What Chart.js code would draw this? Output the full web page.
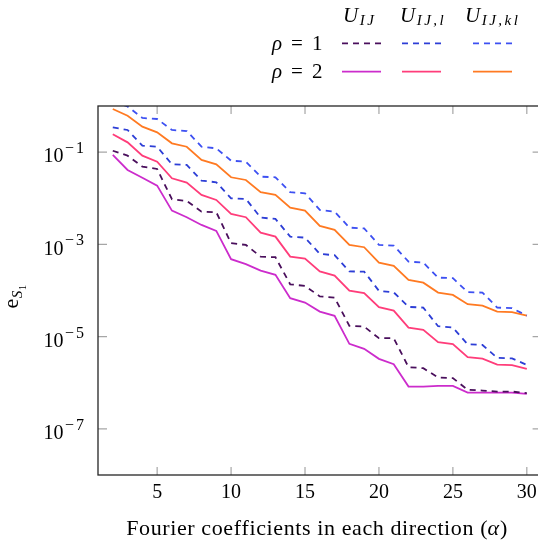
<!DOCTYPE html>
<html lang="en">
<head>
  <meta charset="UTF-8" />
  <title>Fourier coefficients error</title>
  <script src="https://cdn.jsdelivr.net/npm/chart.js"></script>
  <style>
    html, body { margin: 0; padding: 0; background: #fff; overflow: hidden; }
    #wrap { width: 548px; height: 549px; }
  </style>
</head>
<body>
  <div id="wrap"><canvas id="c" width="548" height="549"></canvas></div>

  <script>
    // number of Fourier coefficients in each direction
    const alpha = [2, 3, 4, 5, 6, 7, 8, 9, 10, 11, 12, 13, 14, 15, 16, 17, 18, 19, 20, 21, 22, 23, 24, 25, 26, 27, 28, 29, 30];

    // rho = 1 (dashed)
    const uIJ_rho1 = [0.107, 0.0838, 0.0484, 0.0431, 0.00951, 0.00874, 0.00513, 0.00498, 0.00106, 9.73e-4, 5.43e-4, 5.27e-4, 1.36e-4, 1.26e-4, 7.45e-5, 7.01e-5, 1.71e-5, 1.65e-5, 9.25e-6, 9.25e-6, 2.18e-6, 2.07e-6, 1.30e-6, 1.26e-6, 7.02e-7, 6.78e-7, 6.44e-7, 6.44e-7, 5.95e-7];
    const uIJl_rho1 = [0.345, 0.302, 0.138, 0.131, 0.0545, 0.0527, 0.0241, 0.0222, 0.0100, 0.00966, 0.00380, 0.00356, 0.00147, 0.00140, 6.21e-4, 5.82e-4, 2.59e-4, 2.57e-4, 9.8e-5, 9.1e-5, 4.41e-5, 4.26e-5, 1.68e-5, 1.57e-5, 6.8e-6, 6.6e-6, 3.46e-6, 3.38e-6, 2.44e-6];
    const uIJkl_rho1 = [1.28, 0.975, 0.550, 0.523, 0.302, 0.287, 0.131, 0.121, 0.0653, 0.0621, 0.0294, 0.0285, 0.0135, 0.0128, 0.00558, 0.00513, 0.00231, 0.00222, 9.73e-4, 9.4e-4, 4.23e-4, 4.02e-4, 1.90e-4, 1.85e-4, 9.19e-5, 9.0e-5, 4.26e-5, 4.13e-5, 2.86e-5];

    // rho = 2 (solid)
    const uIJ_rho2 = [0.0867, 0.0410, 0.0279, 0.0188, 0.00539, 0.00388, 0.00264, 0.00196, 4.77e-4, 3.72e-4, 2.70e-4, 2.18e-4, 6.81e-5, 5.47e-5, 3.49e-5, 2.82e-5, 6.97e-6, 5.43e-6, 3.30e-6, 2.53e-6, 8.27e-7, 8.27e-7, 8.57e-7, 8.57e-7, 6.13e-7, 6.13e-7, 6.13e-7, 6.13e-7, 5.75e-7];
    const uIJl_rho2 = [0.244, 0.163, 0.0838, 0.0621, 0.0271, 0.0218, 0.0118, 0.00919, 0.00457, 0.00388, 0.00180, 0.00147, 5.43e-4, 4.91e-4, 2.59e-4, 2.10e-4, 9.9e-5, 8.74e-5, 4.35e-5, 3.67e-5, 1.57e-5, 1.40e-5, 7.6e-6, 6.86e-6, 3.59e-6, 3.34e-6, 2.48e-6, 2.41e-6, 2.0e-6];
    const uIJkl_rho2 = [0.861, 0.616, 0.356, 0.269, 0.155, 0.131, 0.0676, 0.0545, 0.0285, 0.0249, 0.0135, 0.0118, 0.00625, 0.00539, 0.00251, 0.00206, 9.73e-4, 8.67e-4, 4.02e-4, 3.41e-4, 1.70e-4, 1.48e-4, 9.0e-5, 8.03e-5, 5.05e-5, 4.71e-5, 3.49e-5, 3.39e-5, 2.86e-5];

    const xTicks = [5, 10, 15, 20, 25, 30];
    const yTicks = [1e-7, 1e-5, 1e-3, 1e-1];

    const SERIF = "'Liberation Serif', 'DejaVu Serif', serif";
    const DASH = [6, 5];

    const series = [
      { data: uIJ_rho1,   color: '#4a0f5c', dash: DASH, row: 0, col: 0 },
      { data: uIJl_rho1,  color: '#2d3ed6', dash: DASH, row: 0, col: 1 },
      { data: uIJkl_rho1, color: '#3d50f2', dash: DASH, row: 0, col: 2 },
      { data: uIJ_rho2,   color: '#cc2ccc', dash: [],   row: 1, col: 0 },
      { data: uIJl_rho2,  color: '#ff3d7a', dash: [],   row: 1, col: 1 },
      { data: uIJkl_rho2, color: '#ff7a22', dash: [],   row: 1, col: 2 }
    ];

    // draw a run of text pieces (math-like: italics, subscripts); ls = extra space between letters
    function drawRuns(ctx, x, y, parts) {
      ctx.textAlign = 'left';
      ctx.textBaseline = 'alphabetic';
      for (const p of parts) {
        ctx.font = p.f;
        const chars = p.ls ? Array.from(p.t) : [p.t];
        chars.forEach((ch, k) => {
          ctx.fillText(ch, x, y + (p.dy || 0));
          x += ctx.measureText(ch).width + (k < chars.length - 1 ? (p.ls || 0) : 0);
        });
        x += p.gap || 0;
      }
      return x;
    }

    function runsWidth(ctx, parts) {
      let w = 0;
      for (const p of parts) {
        ctx.font = p.f;
        const chars = p.ls ? Array.from(p.t) : [p.t];
        chars.forEach((ch, k) => { w += ctx.measureText(ch).width + (k < chars.length - 1 ? (p.ls || 0) : 0); });
        w += p.gap || 0;
      }
      return w;
    }

    const decorations = {
      id: 'decorations',
      afterDraw(chart) {
        const ctx = chart.ctx;
        const { left, right, top, bottom } = chart.chartArea;
        const xs = chart.scales.x, ys = chart.scales.y;
        ctx.save();

        // inward tick marks on all sides
        ctx.strokeStyle = '#a6a6a6';
        ctx.lineWidth = 1.2;
        ctx.beginPath();
        xTicks.forEach(v => {
          const px = xs.getPixelForValue(v);
          ctx.moveTo(px, bottom); ctx.lineTo(px, bottom - 8);
          ctx.moveTo(px, top); ctx.lineTo(px, top + 8);
        });
        yTicks.forEach(v => {
          const py = ys.getPixelForValue(v);
          ctx.moveTo(left, py); ctx.lineTo(left + 9, py);
          ctx.moveTo(right, py); ctx.lineTo(right - 9, py);
        });
        ctx.stroke();

        // frame
        ctx.strokeStyle = '#262626';
        ctx.lineWidth = 1.3;
        ctx.strokeRect(left, top, right - left, bottom - top);

        ctx.fillStyle = '#000';

        // y tick labels 10^k
        yTicks.forEach(v => {
          const py = ys.getPixelForValue(v);
          const e = Math.round(Math.log10(v));
          ctx.font = '20px ' + SERIF;
          ctx.textAlign = 'right';
          ctx.fillText('10', left - 34.5, py + 10.3);
          drawRuns(ctx, left - 33, py + 1, [
            { t: e < 0 ? '\u2212' : '', f: '16px ' + SERIF, gap: 2 },
            { t: String(Math.abs(e)), f: '16px ' + SERIF }
          ]);
        });

        // y axis title e_{S_1}
        ctx.save();
        ctx.translate(18, (top + bottom) / 2 + 18);
        ctx.rotate(-Math.PI / 2);
        drawRuns(ctx, 0, 0, [
          { t: 'e', f: '22px ' + SERIF, gap: 0.5 },
          { t: 'S', f: 'italic 15px ' + SERIF, dy: 4, gap: 0.5 },
          { t: '1', f: '11px ' + SERIF, dy: 7.5 }
        ]);
        ctx.restore();

        // x axis title
        const title = [
          { t: 'Fourier coefficients in each direction (', f: '22px ' + SERIF, ls: 0.6 },
          { t: '\u03b1', f: 'italic 22px ' + SERIF, gap: 1 },
          { t: ')', f: '22px ' + SERIF }
        ];
        const tw = runsWidth(ctx, title);
        drawRuns(ctx, (left + right) / 2 - 3 - tw / 2, 535, title);

        // matrix legend
        const colX = [342, 402, 473];
        const headX = [343, 400, 465];
        const subs = ['IJ', 'IJ,l', 'IJ,kl'];
        const rowY = [43.3, 71.7];
        subs.forEach((s, i) => {
          drawRuns(ctx, headX[i], 21.7, [
            { t: 'U', f: 'italic 21px ' + SERIF, gap: 1.5 },
            { t: s, f: 'italic 15px ' + SERIF, dy: 3.5, ls: 2.5 }
          ]);
        });
        ['1', '2'].forEach((r, i) => {
          drawRuns(ctx, 272, rowY[i] + 6.5, [
            { t: '\u03c1', f: 'italic 21px ' + SERIF, gap: 9 },
            { t: '=', f: '21px ' + SERIF, gap: 9 },
            { t: r, f: '21px ' + SERIF }
          ]);
        });
        series.forEach(s => {
          ctx.strokeStyle = s.color;
          ctx.lineWidth = 1.8;
          ctx.setLineDash(s.dash);
          ctx.beginPath();
          ctx.moveTo(colX[s.col], rowY[s.row]);
          ctx.lineTo(colX[s.col] + 39, rowY[s.row]);
          ctx.stroke();
        });
        ctx.setLineDash([]);
        ctx.restore();
      }
    };

    new Chart(document.getElementById('c'), {
      type: 'line',
      data: {
        datasets: series.map(s => ({
          data: alpha.map((a, i) => ({ x: a, y: s.data[i] })),
          borderColor: s.color,
          borderDash: s.dash,
          borderWidth: 1.8,
          pointRadius: 0,
          fill: false,
          tension: 0
        }))
      },
      options: {
        responsive: false,
        animation: false,
        layout: { padding: { top: 106, left: 0, right: 6.4, bottom: 0 } },
        plugins: { legend: { display: false }, tooltip: { enabled: false } },
        scales: {
          x: {
            type: 'linear', min: 1, max: 31,
            grid: { display: false, drawTicks: false },
            border: { display: false },
            ticks: { font: { family: SERIF, size: 20 }, color: '#000', padding: 6 },
            afterBuildTicks: s => { s.ticks = xTicks.map(v => ({ value: v })); },
            afterFit: s => { s.height = 74; }
          },
          y: {
            type: 'logarithmic', min: 1e-8, max: 1,
            grid: { display: false, drawTicks: false },
            border: { display: false },
            ticks: { display: false },
            afterBuildTicks: s => { s.ticks = yTicks.map(v => ({ value: v })); },
            afterFit: s => { s.width = 98; }
          }
        }
      },
      plugins: [decorations]
    });
  </script>
</body>
</html>
